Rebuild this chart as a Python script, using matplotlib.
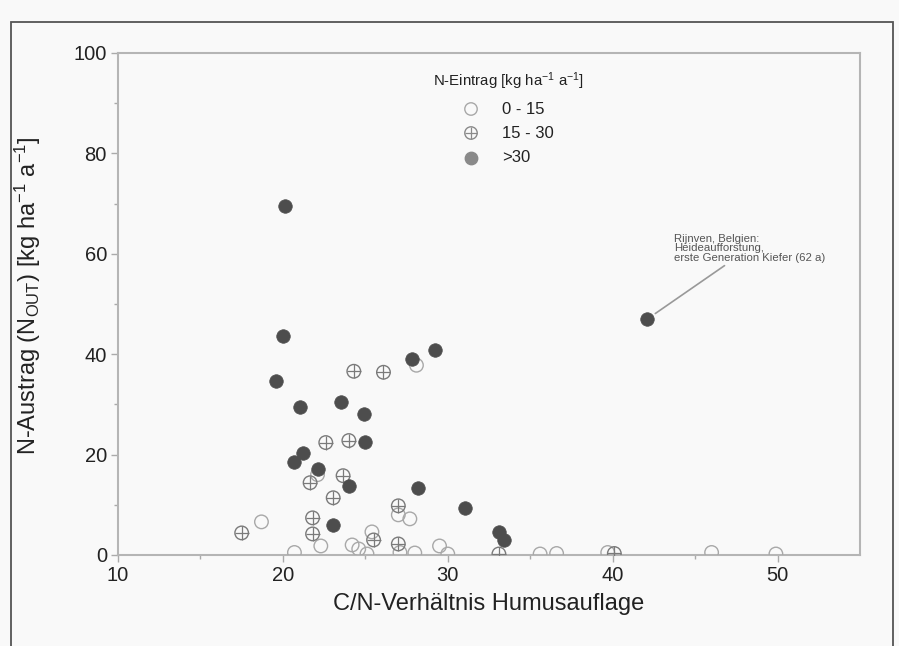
import matplotlib
matplotlib.use("Agg")
import matplotlib.pyplot as plt
from matplotlib.patches import Rectangle

plt.rcParams['font.family'] = ['Liberation Sans', 'DejaVu Sans']
plt.rcParams['mathtext.default'] = 'regular'

# C/N ratio vs. N output, grouped by N deposition class
cn_low = [18.7, 20.7, 22.3, 22.1, 24.2, 24.6, 25.1, 25.4, 27.0, 27.7,
          28.1, 27.1, 28.0, 29.5, 30.0, 35.6, 36.6, 39.7, 46.0, 49.9]
nout_low = [6.6, 0.5, 1.8, 16.0, 2.0, 1.2, 0.2, 4.6, 8.0, 7.2,
            37.8, 0.5, 0.4, 1.8, 0.2, 0.2, 0.3, 0.5, 0.5, 0.2]

cn_mid = [17.5, 21.8, 21.8, 23.05, 21.65, 23.65, 22.6, 24.0, 24.3, 26.1,
          27.0, 25.5, 27.0, 33.1, 40.1]
nout_mid = [4.4, 7.4, 4.2, 11.4, 14.4, 15.8, 22.4, 22.8, 36.6, 36.4,
            9.8, 3.0, 2.2, 0.2, 0.3]

cn_high = [20.1, 20.0, 19.6, 21.05, 23.5, 24.9, 27.85, 29.2, 25.0, 20.7,
           21.2, 22.15, 24.0, 28.2, 23.05, 31.05, 33.1, 33.4, 42.1]
nout_high = [69.5, 43.6, 34.6, 29.4, 30.4, 28.0, 39.0, 40.8, 22.6, 18.6,
             20.4, 17.2, 13.7, 13.4, 6.0, 9.4, 4.6, 3.0, 47.0]

legend_labels = ['0 - 15', '15 - 30', '>30']

W, H = 899, 646
fig = plt.figure(figsize=(W / 100, H / 100), dpi=100, facecolor='#f9f9f9')

def fx(px):
    return px / W

def fy(py):
    return 1 - py / H

ax = fig.add_axes([fx(118), fy(555), fx(860) - fx(118), fy(53) - fy(555)])
ax.set_facecolor('#f9f9f9')

# outer frame around the whole figure
fig.patches.append(Rectangle((fx(11), -0.02), fx(893) - fx(11), fy(22) + 0.02,
                             transform=fig.transFigure, fill=False,
                             edgecolor='#555555', lw=1.3))

ms = 95
ax.scatter(cn_low, nout_low, s=ms, facecolors='none', edgecolors='#a8a8a8',
           linewidths=1.0, zorder=3)
ax.scatter(cn_mid, nout_mid, s=ms, facecolors='none', edgecolors='#7a7a7a',
           linewidths=1.0, zorder=3)
ax.scatter(cn_mid, nout_mid, s=ms, marker='+', color='#7a7a7a',
           linewidths=0.9, zorder=3)
ax.scatter(cn_high, nout_high, s=ms, color='#4d4d4d', edgecolors='#4d4d4d',
           linewidths=0.5, zorder=4)

ax.set_xlim(10, 55)
ax.set_ylim(0, 100)
ax.set_xticks([10, 20, 30, 40, 50])
ax.set_xticks([15, 25, 35, 45], minor=True)
ax.set_yticks([0, 20, 40, 60, 80, 100])
ax.set_yticks([10, 30, 50, 70, 90], minor=True)
ax.tick_params(which='major', length=5, width=1, color='#aaaaaa',
               labelsize=14.5, labelcolor='#222222', pad=3)
ax.tick_params(which='minor', length=3, width=1, color='#aaaaaa')
for s in ax.spines.values():
    s.set_color('#b5b5b5')
    s.set_linewidth(1.5)

ax.set_xlabel('C/N-Verhältnis Humusauflage', fontsize=17, color='#222222',
              labelpad=6)
ax.set_ylabel(r'N-Austrag (N$_{OUT}$) [kg ha$^{-1}$ a$^{-1}$]', fontsize=17,
              color='#222222')
ax.yaxis.set_label_coords(-0.101, 0.516)

# legend drawn by hand
fig.text(fx(509), fy(81), r'N-Eintrag [kg ha$^{-1}$ a$^{-1}$]', fontsize=10.8,
         ha='center', va='center', color='#222222')
leg_y = [109, 133, 158]
leg_style = [dict(facecolors='none', edgecolors='#a8a8a8'),
             dict(facecolors='none', edgecolors='#8a8a8a'),
             dict(facecolors='#8a8a8a', edgecolors='#8a8a8a')]
for lab, py, st in zip(legend_labels, leg_y, leg_style):
    fig.text(fx(502), fy(py), lab, fontsize=12, ha='left', va='center',
             color='#222222')
    ax.scatter([fx(471)], [fy(py)], s=80, transform=fig.transFigure,
               linewidths=1.0, clip_on=False, **st)
ax.scatter([fx(471)], [fy(leg_y[1])], s=80, marker='+', color='#8a8a8a',
           transform=fig.transFigure, linewidths=0.9, clip_on=False)

ax.annotate('Rijnven, Belgien:\nHeideaufforstung,\nerste Generation Kiefer (62 a)',
            xy=(cn_high[-1], nout_high[-1]), xytext=(43.7, 58.2),
            fontsize=8.2, color='#555555', ha='left', va='bottom',
            linespacing=0.92,
            arrowprops=dict(arrowstyle='-', color='#999999', lw=1.2,
                            shrinkA=0, shrinkB=7))

fig.savefig('out.png', dpi=100, facecolor=fig.get_facecolor())
